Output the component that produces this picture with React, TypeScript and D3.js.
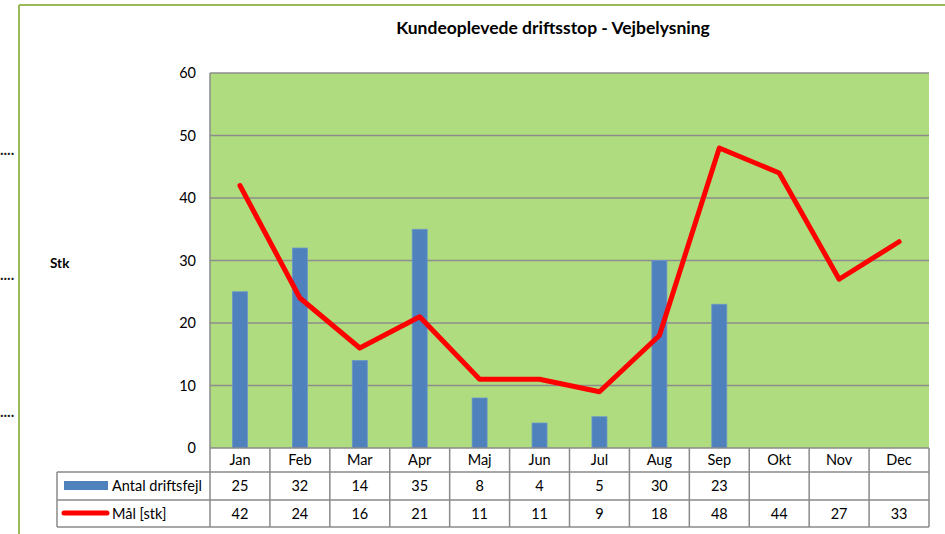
import * as d3 from "d3";

const months = ["Jan", "Feb", "Mar", "Apr", "Maj", "Jun", "Jul", "Aug", "Sep", "Okt", "Nov", "Dec"];
const faults: (number | null)[] = [25, 32, 14, 35, 8, 4, 5, 30, 23, null, null, null];
const target = [42, 24, 16, 21, 11, 11, 9, 18, 48, 44, 27, 33];
const yTicks = [0, 10, 20, 30, 40, 50, 60];
const seriesNames = ["Antal driftsfejl", "Mål [stk]"];

const W = 945;
const H = 534;
const font = "Lato, 'Open Sans', sans-serif";
const gridColor = "#8c8c8c";
const tableLine = "#8a8a8a";

const App = () => {
  const x = d3.scaleBand<string>().domain(months).range([210, 929]);
  const y = d3.scaleLinear().domain([0, 60]).range([448, 73]);
  const cx = (m: string) => (x(m) as number) + x.bandwidth() / 2;
  const barW = 15;

  const line = d3
    .line<number>()
    .x((d, i) => cx(months[i]))
    .y((d) => y(d));

  const rowTop = [448, 472, 500];
  const rowBottom = 527;
  const legendLeft = 57;

  return (
    <svg width={W} height={H} style={{ position: "absolute", left: 0, top: 0, background: "#fff" }}>
      {/* outer frame */}
      <line x1={19} y1={5} x2={W} y2={5} stroke="#9bbb59" strokeWidth={2} />
      <line x1={19} y1={5} x2={19} y2={H} stroke="#9bbb59" strokeWidth={2} />
      {[155, 280, 417].map((yy) => (
        <text key={yy} x={0} y={yy} fontSize={15} fontWeight="bold" fill="#222" fontFamily={font}>
          ....
        </text>
      ))}

      <text x={553} y={34} textAnchor="middle" fontFamily={font} fontWeight="bold" fontSize={17.5} fill="#000">
        Kundeoplevede driftsstop - Vejbelysning
      </text>
      <text x={50} y={268} fontFamily={font} fontWeight="bold" fontSize={13.5} fill="#000">
        Stk
      </text>

      {/* plot area */}
      <rect x={210} y={y(60)} width={929 - 210} height={y(0) - y(60)} fill="#afdc7e" />
      {yTicks.map((t) => (
        <g key={t}>
          {t > 0 && <line x1={210} x2={929} y1={y(t)} y2={y(t)} stroke={gridColor} strokeWidth={1.5} />}
          <text x={196} y={y(t) + 5} textAnchor="end" fontFamily={font} fontSize={14.5} fill="#000">
            {t}
          </text>
        </g>
      ))}
      <line x1={210} x2={210} y1={y(60)} y2={y(0)} stroke={gridColor} strokeWidth={1.5} />

      {months.map((m, i) =>
        faults[i] == null ? null : (
          <rect
            key={m}
            x={cx(m) - barW / 2}
            y={y(faults[i] as number)}
            width={barW}
            height={y(0) - y(faults[i] as number)}
            fill="#4f81bd"
            stroke="#6d97c9"
            strokeWidth={0.8}
          />
        )
      )}

      <path
        d={line(target) || ""}
        fill="none"
        stroke="#ff0000"
        strokeWidth={5}
        strokeLinejoin="round"
        strokeLinecap="round"
      />

      {/* data table */}
      <rect x={210} y={rowTop[0]} width={929 - 210} height={rowTop[1] - rowTop[0]} fill="#fff" />
      <rect x={legendLeft} y={rowTop[1]} width={929 - legendLeft} height={rowBottom - rowTop[1]} fill="#fff" />
      <line x1={210} x2={929} y1={rowTop[0]} y2={rowTop[0]} stroke={tableLine} strokeWidth={1.5} />
      {[rowTop[1], rowTop[2], rowBottom].map((yy) => (
        <line key={yy} x1={legendLeft} x2={929} y1={yy} y2={yy} stroke={tableLine} strokeWidth={1.5} />
      ))}
      <line x1={legendLeft} x2={legendLeft} y1={rowTop[1]} y2={rowBottom} stroke={tableLine} strokeWidth={1.5} />
      {months.map((m) => (
        <line key={m} x1={x(m)} x2={x(m)} y1={rowTop[0]} y2={rowBottom} stroke={tableLine} strokeWidth={1.5} />
      ))}
      <line x1={929} x2={929} y1={rowTop[0]} y2={rowBottom} stroke={tableLine} strokeWidth={1.5} />

      {months.map((m, i) => (
        <g key={m} fontFamily={font} fontSize={14.5} fill="#000" textAnchor="middle">
          <text x={cx(m)} y={rowTop[0] + 17}>{m}</text>
          {faults[i] != null && <text x={cx(m)} y={rowTop[1] + 19}>{faults[i]}</text>}
          <text x={cx(m)} y={rowTop[2] + 19}>{target[i]}</text>
        </g>
      ))}

      <rect x={64} y={481} width={44} height={9} fill="#4f81bd" />
      <line x1={64} x2={107} y1={513} y2={513} stroke="#ff0000" strokeWidth={5} strokeLinecap="round" />
      <text x={112} y={rowTop[1] + 19} fontFamily={font} fontSize={14.5} fill="#000">
        {seriesNames[0]}
      </text>
      <text x={112} y={rowTop[2] + 19} fontFamily={font} fontSize={14.5} fill="#000">
        {seriesNames[1]}
      </text>
    </svg>
  );
};

export default App;
